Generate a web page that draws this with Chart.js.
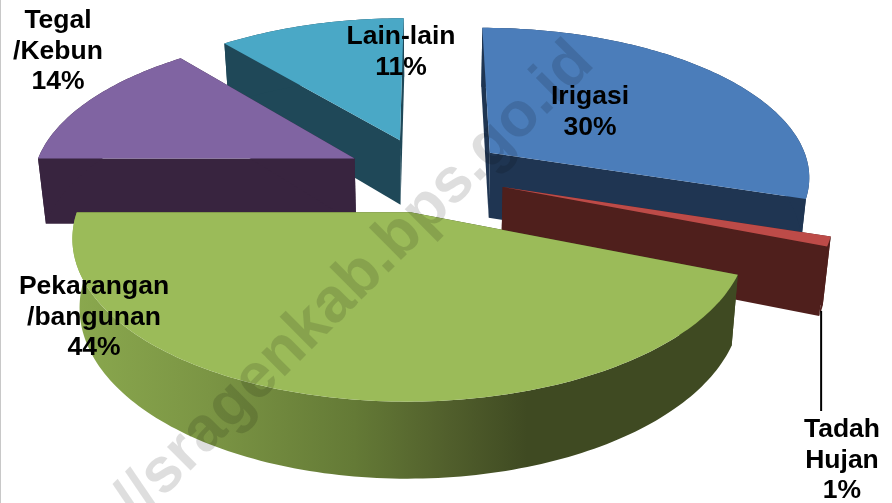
<!DOCTYPE html>
<html>
<head>
<meta charset="utf-8">
<title>Penggunaan Lahan</title>
<script src="https://cdn.jsdelivr.net/npm/chart.js@4"></script>
<style>
    html, body { margin: 0; padding: 0; background: #fff; }
    #wrap { width: 892px; height: 503px; }
</style>
</head>
<body>
<div id="wrap"><canvas id="landChart" width="892" height="503"></canvas></div>
<script>
const categories = ['Irigasi', 'Tadah Hujan', 'Pekarangan /bangunan', 'Tegal /Kebun', 'Lain-lain'];
const shares = [30, 1, 44, 14, 11];
const labelLines = [
    ['Irigasi', '30%'],
    ['Tadah', 'Hujan', '1%'],
    ['Pekarangan', '/bangunan', '44%'],
    ['Tegal', '/Kebun', '14%'],
    ['Lain-lain', '11%']
];
const topColors = ['#4b7dba', '#bd4b48', '#9bbb59', '#8064a2', '#4aa8c6'];
const wallColors = ['#1f3552', '#4f1f1c', '#3f4a22', '#38243f', '#1f4858'];
const labelCenters = [[590, 104], [842, 437], [94, 294], [58, 28], [401, 44]];
const watermark = '//sragenkab.bps.go.id';

// camera fitted to the picture: the pie lies on a tilted plane, radius = 1
const vanishX = 430, horizonY = -840, scaleX = 0.317;
const planeQ = 0.000986, planeK = 0.000145, shiftU = -0.012, explosion = 0.25;

function project(u, v, lowered) {
    const q = planeQ - planeK * v;
    let x = vanishX + scaleX * (u + shiftU) / q;
    let y = 1 / q + horizonY;
    if (lowered) {
        y += 57.6 + 0.0484 * y;
        x = vanishX + (x - vanishX) * 0.98;
    }
    return [x, y];
}

function tracePoints(ctx, pts) {
    ctx.beginPath();
    pts.forEach((p, i) => i ? ctx.lineTo(p[0], p[1]) : ctx.moveTo(p[0], p[1]));
    ctx.closePath();
}

function drawSlice(ctx, arc, index) {
    const { startAngle, endAngle } = arc;
    const mid = (startAngle + endAngle) / 2;
    const cu = explosion * Math.cos(mid);
    const cv = explosion * Math.sin(mid);
    const rim = [];
    const steps = Math.max(2, Math.ceil((endAngle - startAngle) / 0.02));
    for (let i = 0; i <= steps; i++) {
        const a = startAngle + (endAngle - startAngle) * i / steps;
        rim.push([cu + Math.cos(a), cv + Math.sin(a)]);
    }
    const topRim = rim.map(p => project(p[0], p[1], false));
    const lowRim = rim.map(p => project(p[0], p[1], true));
    const apex = project(cu, cv, false);
    const lowApex = project(cu, cv, true);
    const wall = wallColors[index];

    ctx.fillStyle = wall;
    tracePoints(ctx, [apex, topRim[0], lowRim[0], lowApex]);
    ctx.fill();
    tracePoints(ctx, [apex, topRim[steps], lowRim[steps], lowApex]);
    ctx.fill();

    if (index === 2) {
        const shade = ctx.createLinearGradient(75, 0, 740, 0);
        shade.addColorStop(0, '#8aa84e');
        shade.addColorStop(0.2, '#7b9544');
        shade.addColorStop(0.42, '#647a36');
        shade.addColorStop(0.56, '#515f2c');
        shade.addColorStop(0.68, '#3f4a22');
        shade.addColorStop(1, '#3f4a22');
        ctx.fillStyle = shade;
    }
    tracePoints(ctx, topRim.concat(lowRim.slice().reverse()));
    ctx.fill();

    ctx.fillStyle = arc.options.backgroundColor;
    tracePoints(ctx, [apex].concat(topRim));
    ctx.fill();
}

const tiltedPie = {
    id: 'tiltedPie',
    beforeDraw(chart) {
        const ctx = chart.ctx;
        ctx.fillStyle = '#ffffff';
        ctx.fillRect(0, 0, chart.width, chart.height);
        ctx.fillStyle = '#c8c8c8';
        ctx.fillRect(0, 0, 1, chart.height);
    },
    beforeDatasetDraw(chart, args) {
        const ctx = chart.ctx;
        const arcs = args.meta.data;
        const order = arcs.map((arc, i) => i).sort((a, b) => {
            const midA = (arcs[a].startAngle + arcs[a].endAngle) / 2;
            const midB = (arcs[b].startAngle + arcs[b].endAngle) / 2;
            return Math.sin(midA) - Math.sin(midB);
        });
        ctx.save();
        order.forEach(i => drawSlice(ctx, arcs[i], i));
        ctx.restore();
        return false;
    },
    afterDatasetsDraw(chart) {
        const ctx = chart.ctx;

        ctx.save();
        ctx.translate(138, 523);
        ctx.rotate(-45 * Math.PI / 180);
        ctx.font = 'bold 63px "Liberation Sans"';
        ctx.fillStyle = 'rgba(0, 0, 0, 0.13)';
        ctx.textAlign = 'left';
        ctx.textBaseline = 'alphabetic';
        ctx.fillText(watermark, 0, 0);
        ctx.restore();

        // leader of the 1% slice
        const tadah = chart.getDatasetMeta(0).data[1];
        const mid = (tadah.startAngle + tadah.endAngle) / 2;
        const end = project(explosion * Math.cos(mid) + Math.cos(mid), explosion * Math.sin(mid) + Math.sin(mid), true);
        ctx.save();
        ctx.strokeStyle = '#000000';
        ctx.lineWidth = 2;
        ctx.beginPath();
        ctx.moveTo(end[0], end[1]);
        ctx.lineTo(end[0], 411);
        ctx.stroke();

        ctx.font = 'bold 26.5px "Liberation Sans"';
        ctx.fillStyle = '#000000';
        ctx.textAlign = 'center';
        ctx.textBaseline = 'alphabetic';
        labelLines.forEach((lines, i) => {
            lines.forEach((line, j) => {
                ctx.fillText(line, labelCenters[i][0], labelCenters[i][1] + j * 30.7);
            });
        });
        ctx.restore();
    }
};

new Chart(document.getElementById('landChart').getContext('2d'), {
    type: 'pie',
    data: {
        labels: categories,
        datasets: [{
            data: shares,
            backgroundColor: topColors,
            borderWidth: 0
        }]
    },
    options: {
        responsive: false,
        animation: false,
        plugins: {
            legend: { display: false },
            tooltip: { enabled: false }
        }
    },
    plugins: [tiltedPie]
});
</script>
</body>
</html>
